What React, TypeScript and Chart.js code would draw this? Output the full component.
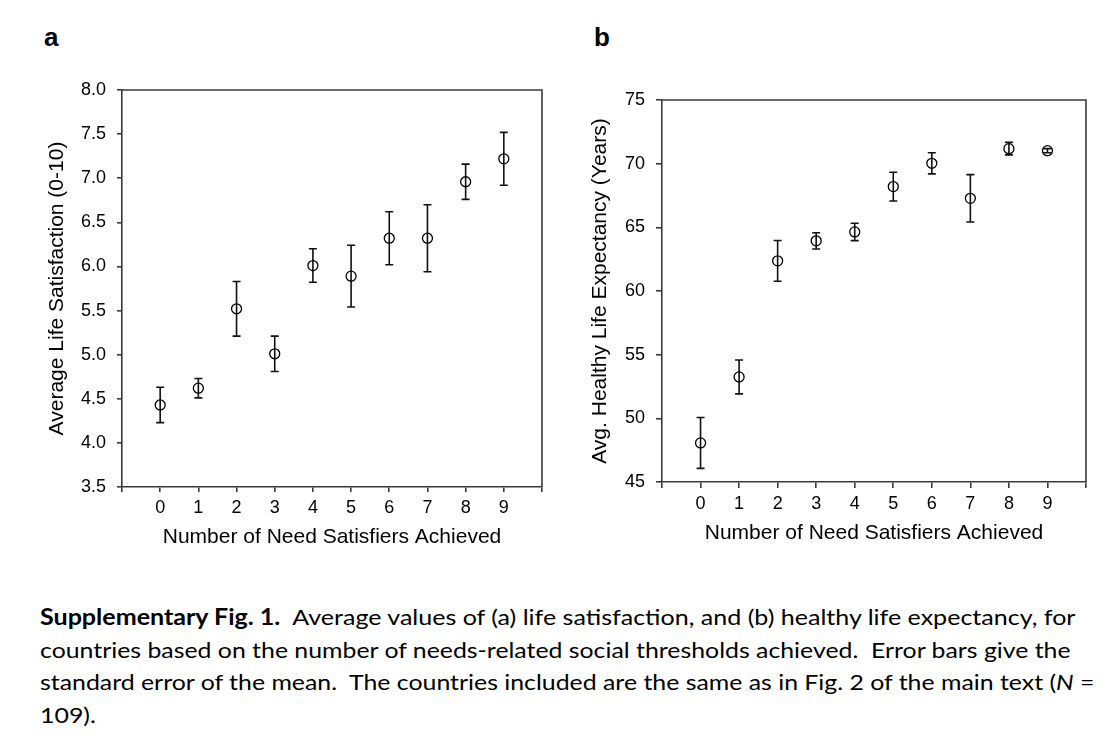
import React, { useEffect, useLayoutEffect, useRef } from "react";
import { Chart, registerables } from "chart.js";

Chart.register(...registerables);

// ---------- data ----------
const needCounts = [0, 1, 2, 3, 4, 5, 6, 7, 8, 9];
const lifeSatMean = [4.43, 4.62, 5.52, 5.01, 6.01, 5.89, 6.32, 6.32, 6.96, 7.22];
const lifeSatSE = [0.2, 0.11, 0.31, 0.2, 0.19, 0.35, 0.3, 0.38, 0.2, 0.3];
const hleMean = [48.07, 53.25, 62.37, 63.94, 64.64, 68.2, 70.03, 67.28, 71.18, 71.02];
const hleSE = [2.0, 1.33, 1.6, 0.64, 0.68, 1.13, 0.83, 1.86, 0.49, 0.16];

const satYTicks = { min: 3.5, max: 8.0, step: 0.5, decimals: 1 };
const hleYTicks = { min: 45, max: 75, step: 5, decimals: 0 };
const xRange = { min: -1, max: 10 };

const satYTitle = "Average Life Satisfaction (0-10)";
const hleYTitle = "Avg. Healthy Life Expectancy (Years)";
const xTitle = "Number of Need Satisfiers Achieved";

const captionLines = [
  "Average values of (a) life satisfaction, and (b) healthy life expectancy, for",
  "countries based on the number of needs-related social thresholds achieved.  Error bars give the",
  "standard error of the mean.  The countries included are the same as in Fig. 2 of the main text (",
  "109).",
];

// ---------- plugins ----------
const errorBarPlugin = {
  id: "errorBars",
  beforeDatasetsDraw(chart: any) {
    const { ctx } = chart;
    const xs = chart.scales.x;
    const ys = chart.scales.y;
    chart.data.datasets.forEach((ds: any) => {
      const errs: number[] = ds.errors;
      if (!errs) return;
      ctx.save();
      ctx.strokeStyle = "#111";
      ctx.lineWidth = 1.6;
      const cap = 4;
      ds.data.forEach((p: any, i: number) => {
        const px = xs.getPixelForValue(p.x);
        const top = ys.getPixelForValue(p.y + errs[i]);
        const bot = ys.getPixelForValue(p.y - errs[i]);
        ctx.beginPath();
        ctx.moveTo(px, top);
        ctx.lineTo(px, bot);
        ctx.moveTo(px - cap, top);
        ctx.lineTo(px + cap, top);
        ctx.moveTo(px - cap, bot);
        ctx.lineTo(px + cap, bot);
        ctx.stroke();
      });
      ctx.restore();
    });
  },
};

const framePlugin = {
  id: "frame",
  afterDraw(chart: any) {
    const { ctx, chartArea: a } = chart;
    ctx.save();
    ctx.strokeStyle = "#3a3a3a";
    ctx.lineWidth = 1.6;
    ctx.beginPath();
    ctx.moveTo(a.left, a.top);
    ctx.lineTo(a.right, a.top);
    ctx.lineTo(a.right, a.bottom);
    ctx.stroke();
    ctx.restore();
  },
};

type PanelProps = {
  left: number;
  width: number;
  height: number;
  means: number[];
  errors: number[];
  yTicks: { min: number; max: number; step: number; decimals: number };
  yTitle: string;
  areaLeft: number;
  areaRight: number;
  areaTop: number;
  areaBottom: number;
  yTitleCenter: number;
  xTitleCenter: number;
  tickLen: number;
};

function Panel(props: PanelProps) {
  const ref = useRef<HTMLCanvasElement>(null);
  useEffect(() => {
    if (!ref.current) return;
    const p = props;
    const axisColor = "#3a3a3a";
    const chart = new Chart(ref.current, {
      type: "scatter",
      data: {
        datasets: [
          {
            data: needCounts.map((x, i) => ({ x, y: p.means[i] })),
            errors: p.errors,
            pointStyle: "circle",
            pointRadius: 5,
            pointBorderWidth: 1.3,
            pointBorderColor: "#000",
            pointBackgroundColor: "rgba(0,0,0,0)",
            showLine: false,
          } as any,
        ],
      },
      options: {
        animation: false,
        responsive: false,
        layout: {
          padding: {
            left: 0,
            top: p.areaTop,
            right: p.width - p.areaRight,
            bottom: 0,
          },
        },
        plugins: { legend: { display: false }, tooltip: { enabled: false } },
        scales: {
          x: {
            type: "linear",
            min: xRange.min,
            max: xRange.max,
            afterFit: (s: any) => {
              s.height = p.height - p.areaBottom;
            },
            ticks: {
              stepSize: 1,
              autoSkip: false,
              maxRotation: 0,
              padding: 5,
              color: "#000",
              font: { family: "Liberation Sans, Arial, sans-serif", size: 18 },
              callback: (v: any) => (v >= 0 && v <= 9 ? String(v) : ""),
            },
            grid: {
              display: true,
              drawOnChartArea: false,
              drawTicks: true,
              tickLength: p.tickLen,
              color: axisColor,
              lineWidth: 1.6,
            },
            border: { display: true, color: axisColor, width: 1.6 },
            title: {
              display: true,
              text: xTitle,
              color: "#000",
              font: { family: "Liberation Sans, Arial, sans-serif", size: 21 },
              padding: { top: 0, bottom: p.height - p.xTitleCenter - 12.6 },
            },
          },
          y: {
            type: "linear",
            min: p.yTicks.min,
            max: p.yTicks.max,
            afterFit: (s: any) => {
              s.width = p.areaLeft;
            },
            ticks: {
              stepSize: p.yTicks.step,
              padding: 11,
              color: "#000",
              font: { family: "Liberation Sans, Arial, sans-serif", size: 18 },
              callback: (v: any) => Number(v).toFixed(p.yTicks.decimals),
            },
            grid: {
              display: true,
              drawOnChartArea: false,
              drawTicks: true,
              tickLength: p.tickLen,
              color: axisColor,
              lineWidth: 1.6,
            },
            border: { display: true, color: axisColor, width: 1.6 },
            title: {
              display: true,
              text: p.yTitle,
              color: "#000",
              font: { family: "Liberation Sans, Arial, sans-serif", size: 21 },
              padding: { top: p.yTitleCenter - 12.6, bottom: 0 },
            },
          },
        },
      } as any,
      plugins: [errorBarPlugin, framePlugin],
    });
    return () => chart.destroy();
  }, []);
  return (
    <canvas
      ref={ref}
      width={props.width}
      height={props.height}
      style={{
        position: "absolute",
        left: props.left,
        top: 0,
        width: props.width,
        height: props.height,
      }}
    />
  );
}

function Caption() {
  const refs = useRef<(HTMLSpanElement | null)[]>([]);
  const targets = [1036, 1031, 1054];
  useLayoutEffect(() => {
    const scales: number[] = [];
    refs.current.forEach((el, i) => {
      if (!el || i >= targets.length) return;
      const w = el.offsetWidth;
      const s = targets[i] / w;
      scales.push(s);
      el.style.transform = `scaleX(${s})`;
    });
    const avg = scales.reduce((a, b) => a + b, 0) / (scales.length || 1);
    const last = refs.current[3];
    if (last) last.style.transform = `scaleX(${avg})`;
  }, []);
  const lineStyle: React.CSSProperties = {
    display: "inline-block",
    whiteSpace: "pre",
    transformOrigin: "0 0",
  };
  const rowH = 32.7;
  return (
    <div
      style={{
        position: "absolute",
        left: 40,
        top: 601,
        fontFamily: "Lato, 'Open Sans', sans-serif",
        fontSize: 22,
        lineHeight: `${rowH}px`,
        color: "#000",
      }}
    >
      <div style={{ height: rowH }}>
        <span ref={(el) => { refs.current[0] = el; }} style={lineStyle}>
          <b>Supplementary Fig. 1.</b>
          {"  " + captionLines[0]}
        </span>
      </div>
      <div style={{ height: rowH }}>
        <span ref={(el) => { refs.current[1] = el; }} style={lineStyle}>
          {captionLines[1]}
        </span>
      </div>
      <div style={{ height: rowH }}>
        <span ref={(el) => { refs.current[2] = el; }} style={lineStyle}>
          {captionLines[2]}
          <i>N</i>
          {" ="}
        </span>
      </div>
      <div style={{ height: rowH }}>
        <span ref={(el) => { refs.current[3] = el; }} style={lineStyle}>
          {captionLines[3]}
        </span>
      </div>
    </div>
  );
}

export default function App() {
  const labelStyle: React.CSSProperties = {
    position: "absolute",
    fontFamily: "Liberation Sans, Arial, sans-serif",
    fontWeight: "bold",
    fontSize: 26,
    lineHeight: "30px",
  };
  return (
    <div
      style={{
        position: "absolute",
        left: 0,
        top: 0,
        width: 1118,
        height: 741,
        background: "#fff",
        overflow: "hidden",
      }}
    >
      <div style={{ ...labelStyle, left: 44, top: 22 }}>a</div>
      <div style={{ ...labelStyle, left: 594, top: 22 }}>b</div>
      <Panel
        left={0}
        width={560}
        height={570}
        means={lifeSatMean}
        errors={lifeSatSE}
        yTicks={satYTicks}
        yTitle={satYTitle}
        areaLeft={122}
        areaRight={542}
        areaTop={90}
        areaBottom={487}
        yTitleCenter={57}
        xTitleCenter={537}
        tickLen={5}
      />
      <Panel
        left={560}
        width={558}
        height={570}
        means={hleMean}
        errors={hleSE}
        yTicks={hleYTicks}
        yTitle={hleYTitle}
        areaLeft={102}
        areaRight={526}
        areaTop={100}
        areaBottom={482}
        yTitleCenter={40}
        xTitleCenter={533}
        tickLen={6}
      />
      <Caption />
    </div>
  );
}
